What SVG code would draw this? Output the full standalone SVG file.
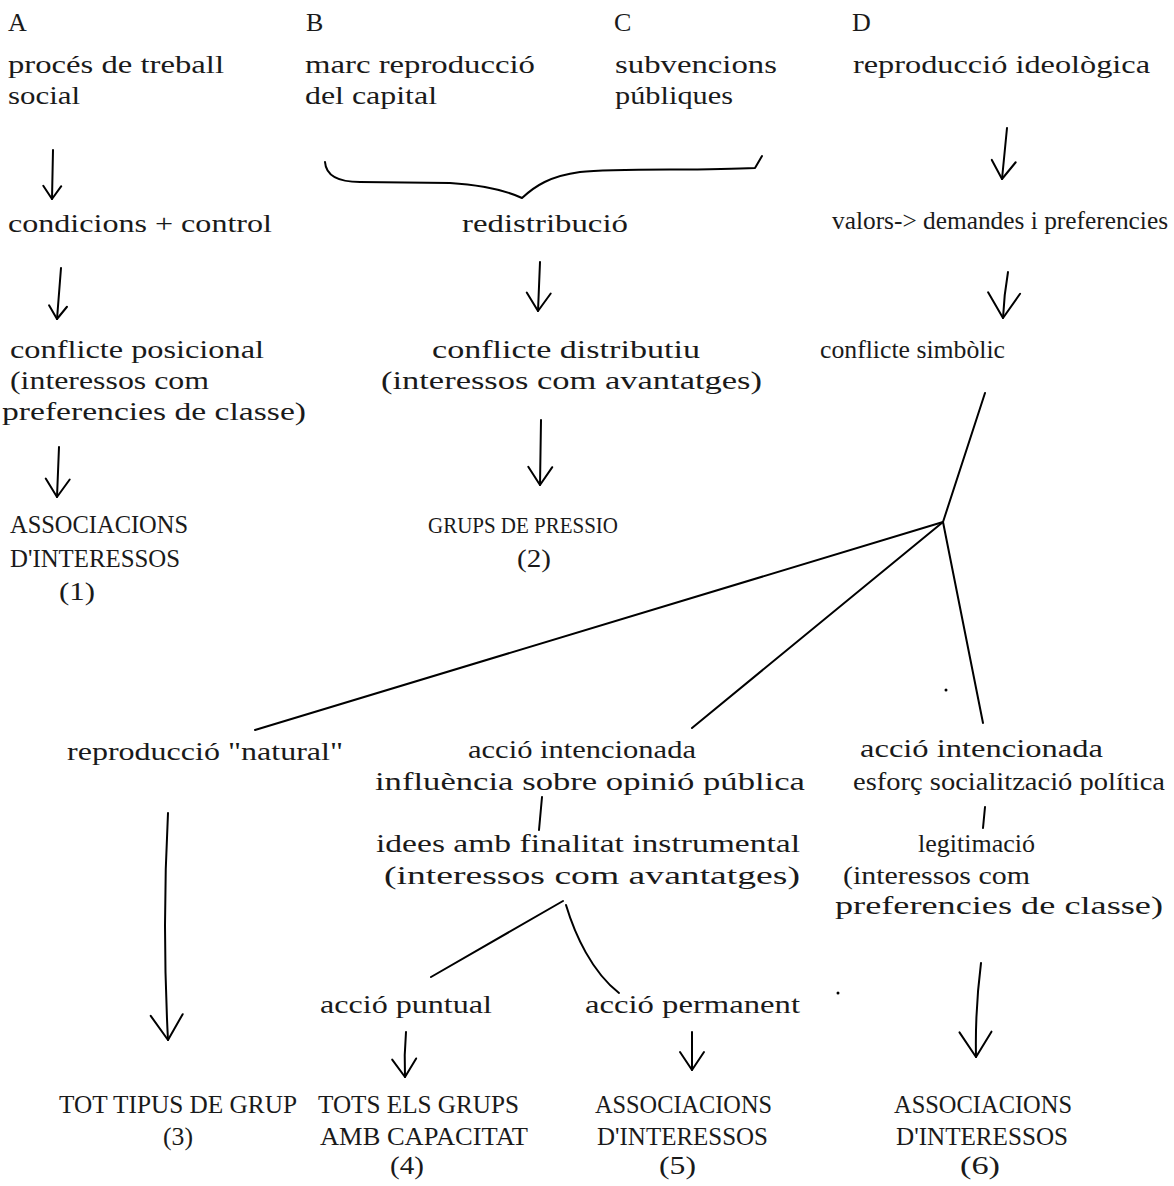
<svg xmlns="http://www.w3.org/2000/svg" width="1174" height="1186" viewBox="0 0 1174 1186">
<style>
text{font-family:"Liberation Serif","DejaVu Serif",serif;font-size:26px;fill:#1a1a1a}
.c{fill:none;stroke:#000;stroke-width:2;stroke-linecap:round;stroke-linejoin:round}
</style>
<defs>
<marker id="mS" markerUnits="userSpaceOnUse" viewBox="-30 -20 40 40" markerWidth="40" markerHeight="40" refX="0" refY="0" orient="auto"><path d="M-13,-9 L0,0 L-13,9" fill="none" stroke="#000" stroke-width="2" stroke-linecap="round" stroke-linejoin="round"/></marker>
<marker id="mM" markerUnits="userSpaceOnUse" viewBox="-30 -20 40 40" markerWidth="40" markerHeight="40" refX="0" refY="0" orient="auto"><path d="M-18,-12 L0,0 L-18,12" fill="none" stroke="#000" stroke-width="2" stroke-linecap="round" stroke-linejoin="round"/></marker>
<marker id="mL" markerUnits="userSpaceOnUse" viewBox="-30 -20 40 40" markerWidth="40" markerHeight="40" refX="0" refY="0" orient="auto"><path d="M-25,-16 L0,0 L-25,16" fill="none" stroke="#000" stroke-width="2" stroke-linecap="round" stroke-linejoin="round"/></marker>
</defs>
<rect width="1174" height="1186" fill="#fff"/>

<g id="connectors">
<path class="c" d="M53,150 L52,199" marker-end="url(#mS)"/>
<path class="c" d="M325,162 C326,176 338,182 360,182 L450,183 C480,185 505,190 522,198 C535,186 550,176 580,172 C620,168 700,171 755,168 L762,156"/>
<path class="c" d="M1007,128 L1002,179" marker-end="url(#mM)"/>
<path class="c" d="M61,268 L57,319" marker-end="url(#mS)"/>
<path class="c" d="M540,262 L538,311" marker-end="url(#mM)"/>
<path class="c" d="M1008,272 Q1004,295 1003,318" marker-end="url(#mL)"/>
<path class="c" d="M59,447 L57,497" marker-end="url(#mM)"/>
<path class="c" d="M541,420 L540,485" marker-end="url(#mM)"/>
<path class="c" d="M985,393 L943,522"/>
<path class="c" d="M943,522 L255,730"/>
<path class="c" d="M943,522 L692,728"/>
<path class="c" d="M943,522 L983,723"/>
<path class="c" d="M168,813 Q162,925 168,1040" marker-end="url(#mL)"/>
<path class="c" d="M542,797 L539,830"/>
<path class="c" d="M985,807 L983,828"/>
<path class="c" d="M563,901 L431,977"/>
<path class="c" d="M566,905 C575,935 592,972 619,993"/>
<path class="c" d="M981,963 Q975,1010 976,1057" marker-end="url(#mL)"/>
<path class="c" d="M406,1032 Q404,1055 405,1077" marker-end="url(#mM)"/>
<path class="c" d="M692,1032 L692,1070" marker-end="url(#mM)"/>
<circle cx="946" cy="690" r="1.5" fill="#000"/>
<circle cx="838" cy="993" r="1.5" fill="#000"/>
</g>

<g id="colA">
<text x="8" y="31">A</text>
<text x="8" y="73" textLength="216" lengthAdjust="spacingAndGlyphs">procés de treball</text>
<text x="8" y="104" textLength="72" lengthAdjust="spacingAndGlyphs">social</text>
</g>
<g id="colB">
<text x="306" y="31">B</text>
<text x="305" y="73" textLength="230" lengthAdjust="spacingAndGlyphs">marc reproducció</text>
<text x="305" y="104" textLength="132" lengthAdjust="spacingAndGlyphs">del capital</text>
</g>
<g id="colC">
<text x="614" y="31">C</text>
<text x="615" y="73" textLength="162" lengthAdjust="spacingAndGlyphs">subvencions</text>
<text x="615" y="104" textLength="118" lengthAdjust="spacingAndGlyphs">públiques</text>
</g>
<g id="colD">
<text x="852" y="31">D</text>
<text x="853" y="73" textLength="297" lengthAdjust="spacingAndGlyphs">reproducció ideològica</text>
</g>

<g id="condicions"><text x="8" y="232" textLength="264" lengthAdjust="spacingAndGlyphs">condicions + control</text></g>
<g id="redistribucio"><text x="462" y="232" textLength="166" lengthAdjust="spacingAndGlyphs">redistribució</text></g>
<g id="valors"><text x="832" y="229" style="font-size:25px" textLength="336" lengthAdjust="spacingAndGlyphs">valors-&gt; demandes i preferencies</text></g>

<g id="conflicte-posicional">
<text x="10" y="358" textLength="254" lengthAdjust="spacingAndGlyphs">conflicte posicional</text>
<text x="10" y="389" textLength="199" lengthAdjust="spacingAndGlyphs">(interessos com</text>
<text x="2" y="420" textLength="304" lengthAdjust="spacingAndGlyphs">preferencies de classe)</text>
</g>
<g id="conflicte-distributiu">
<text x="432" y="358" textLength="268" lengthAdjust="spacingAndGlyphs">conflicte distributiu</text>
<text x="381" y="389" textLength="381" lengthAdjust="spacingAndGlyphs">(interessos com avantatges)</text>
</g>
<g id="conflicte-simbolic"><text x="820" y="358" textLength="185" lengthAdjust="spacingAndGlyphs">conflicte simbòlic</text></g>

<g id="associacions1">
<text x="10" y="533" textLength="178" lengthAdjust="spacingAndGlyphs">ASSOCIACIONS</text>
<text x="10" y="567" textLength="170" lengthAdjust="spacingAndGlyphs">D'INTERESSOS</text>
<text x="59" y="600" textLength="36" lengthAdjust="spacingAndGlyphs">(1)</text>
</g>
<g id="grups2">
<text x="428" y="533" style="font-size:24px" textLength="190" lengthAdjust="spacingAndGlyphs">GRUPS DE PRESSIO</text>
<text x="517" y="567" textLength="34" lengthAdjust="spacingAndGlyphs">(2)</text>
</g>

<g id="reproduccio-natural"><text x="67" y="760" textLength="276" lengthAdjust="spacingAndGlyphs">reproducció "natural"</text></g>
<g id="accio-opinio">
<text x="468" y="758" textLength="228" lengthAdjust="spacingAndGlyphs">acció intencionada</text>
<text x="375" y="790" textLength="430" lengthAdjust="spacingAndGlyphs">influència sobre opinió pública</text>
</g>
<g id="accio-socialitzacio">
<text x="860" y="757" textLength="243" lengthAdjust="spacingAndGlyphs">acció intencionada</text>
<text x="853" y="790" textLength="312" lengthAdjust="spacingAndGlyphs">esforç socialització política</text>
</g>
<g id="idees">
<text x="376" y="852" textLength="424" lengthAdjust="spacingAndGlyphs">idees amb finalitat instrumental</text>
<text x="384" y="884" textLength="416" lengthAdjust="spacingAndGlyphs">(interessos com avantatges)</text>
</g>
<g id="legitimacio">
<text x="918" y="852" textLength="117" lengthAdjust="spacingAndGlyphs">legitimació</text>
<text x="843" y="884" textLength="187" lengthAdjust="spacingAndGlyphs">(interessos com</text>
<text x="835" y="914" textLength="328" lengthAdjust="spacingAndGlyphs">preferencies de classe)</text>
</g>
<g id="accio-puntual"><text x="320" y="1013" textLength="172" lengthAdjust="spacingAndGlyphs">acció puntual</text></g>
<g id="accio-permanent"><text x="585" y="1013" textLength="215" lengthAdjust="spacingAndGlyphs">acció permanent</text></g>

<g id="tot3">
<text x="59" y="1113" textLength="238" lengthAdjust="spacingAndGlyphs">TOT TIPUS DE GRUP</text>
<text x="163" y="1145" textLength="30" lengthAdjust="spacingAndGlyphs">(3)</text>
</g>
<g id="tots4">
<text x="318" y="1113" textLength="201" lengthAdjust="spacingAndGlyphs">TOTS ELS GRUPS</text>
<text x="320" y="1145" textLength="208" lengthAdjust="spacingAndGlyphs">AMB CAPACITAT</text>
<text x="390" y="1174" textLength="34" lengthAdjust="spacingAndGlyphs">(4)</text>
</g>
<g id="associacions5">
<text x="595" y="1113" textLength="177" lengthAdjust="spacingAndGlyphs">ASSOCIACIONS</text>
<text x="597" y="1145" textLength="171" lengthAdjust="spacingAndGlyphs">D'INTERESSOS</text>
<text x="659" y="1174" textLength="37" lengthAdjust="spacingAndGlyphs">(5)</text>
</g>
<g id="associacions6">
<text x="894" y="1113" textLength="178" lengthAdjust="spacingAndGlyphs">ASSOCIACIONS</text>
<text x="896" y="1145" textLength="172" lengthAdjust="spacingAndGlyphs">D'INTERESSOS</text>
<text x="960" y="1174" textLength="40" lengthAdjust="spacingAndGlyphs">(6)</text>
</g>
</svg>
